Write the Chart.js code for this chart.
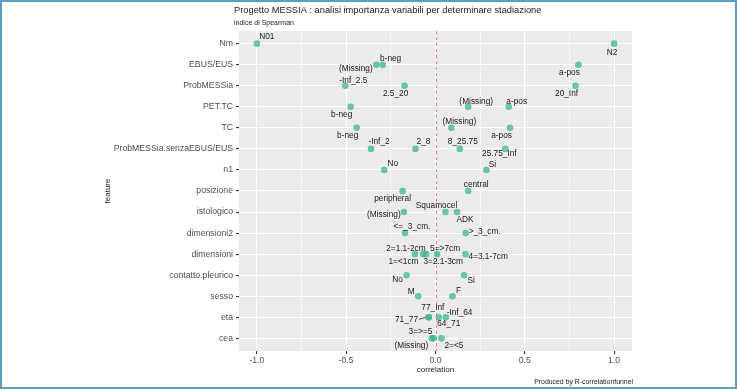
<!DOCTYPE html>
<html>
<head>
<meta charset="utf-8">
<script src="https://cdn.jsdelivr.net/npm/chart.js@4.4.1/dist/chart.umd.min.js"></script>
<style>
  html, body { margin: 0; padding: 0; background: #fff; }
  #wrap { width: 737px; height: 390px; position: relative; }
</style>
</head>
<body>
<div id="wrap"><canvas id="funnel" width="737" height="390"></canvas></div>
<script>
// features, top to bottom
const features = ['Nm', 'EBUS/EUS', 'ProbMESSia', 'PET.TC', 'TC', 'ProbMESSia.senzaEBUS/EUS', 'n1',
  'posizione', 'istologico', 'dimensioni2', 'dimensioni', 'contatto.pleurico', 'sesso', 'eta', 'cea'];

// one entry per feature level
const levelFeature = ['Nm', 'Nm',
  'EBUS/EUS', 'EBUS/EUS', 'EBUS/EUS',
  'ProbMESSia', 'ProbMESSia', 'ProbMESSia',
  'PET.TC', 'PET.TC', 'PET.TC',
  'TC', 'TC', 'TC',
  'ProbMESSia.senzaEBUS/EUS', 'ProbMESSia.senzaEBUS/EUS', 'ProbMESSia.senzaEBUS/EUS', 'ProbMESSia.senzaEBUS/EUS',
  'n1', 'n1',
  'posizione', 'posizione',
  'istologico', 'istologico', 'istologico',
  'dimensioni2', 'dimensioni2',
  'dimensioni', 'dimensioni', 'dimensioni', 'dimensioni', 'dimensioni',
  'contatto.pleurico', 'contatto.pleurico',
  'sesso', 'sesso',
  'eta', 'eta', 'eta', 'eta',
  'cea', 'cea', 'cea'];
const levelName = ['N01', 'N2',
  '(Missing)', 'b-neg', 'a-pos',
  '-Inf_2.5', '2.5_20', '20_Inf',
  'b-neg', '(Missing)', 'a-pos',
  'b-neg', '(Missing)', 'a-pos',
  '-Inf_2', '2_8', '8_25.75', '25.75_Inf',
  'No', 'Si',
  'peripheral', 'central',
  '(Missing)', 'Squamocel', 'ADK',
  '<=_3_cm.', '>_3_cm.',
  '2=1.1-2cm', '1=<1cm', '3=2.1-3cm', '5=>7cm', '4=3.1-7cm',
  'No', 'Si',
  'M', 'F',
  '71_77', '77_Inf', '64_71', '-Inf_64',
  '3=>=5', '(Missing)', '2=<5'];
const levelCorr = [-1.0, 1.0,
  -0.331, -0.296, 0.80,
  -0.505, -0.173, 0.784,
  -0.475, 0.183, 0.41,
  -0.441, 0.089, 0.417,
  -0.361, -0.112, 0.136, 0.391,
  -0.287, 0.285,
  -0.184, 0.183,
  -0.177, 0.056, 0.121,
  -0.171, 0.169,
  -0.115, -0.069, -0.052, 0.009, 0.168,
  -0.162, 0.160,
  -0.097, 0.095,
  -0.039, -0.037, 0.018, 0.058,
  -0.021, -0.010, 0.033];

const xTicks = [-1, -0.75, -0.5, -0.25, 0, 0.25, 0.5, 0.75, 1];

// label placement around each point (px from point: dx, dy, leader line)
const labelOffsets = [[10, -6.5], [-2, 8.7],
  [-20.5, 4.5], [8, -5.5], [-9, 8],
  [8, -5.5], [-9, 7.5], [-9, 8],
  [-9, 8], [8, -5], [8, -5],
  [-9, 7.5], [8, -6], [-8.4, 7.5],
  [8, -6.7], [8, -6.7], [3, -7], [-6, 5],
  [8.5, -6], [6, -5],
  [-10, 7.5], [8, -6.7],
  [-20, 3], [-9, -6], [8, 8],
  [7, -6.5], [19, -1],
  [-9, -5.7], [-19.7, 7.6], [17, 7.6], [8, -5.7], [22.7, 3],
  [-9, 5], [7, 6],
  [-7, -5], [6, -6],
  [-22, 2, true], [4, -9.3], [10, 6.3], [13.7, -4.7],
  [-11.3, -6.3], [-22.3, 7.7], [12.5, 7.7]];

const points = levelCorr.map((c, i) => ({ x: c, y: features.indexOf(levelFeature[i]) }));

const FONT = 'Liberation Sans, Arial, sans-serif';

const decorations = {
  id: 'decorations',
  beforeDraw(chart) {
    const { ctx, chartArea: a } = chart;
    ctx.save();
    ctx.fillStyle = '#EBEBEB';
    ctx.fillRect(a.left, a.top, a.right - a.left, a.bottom - a.top);
    ctx.restore();
  },
  beforeDatasetsDraw(chart) {
    const { ctx, chartArea: a, scales } = chart;
    const x0 = Math.round(scales.x.getPixelForValue(0)) + 0.5;
    ctx.save();
    ctx.strokeStyle = '#EE7A7A';
    ctx.lineWidth = 1;
    ctx.setLineDash([3, 3]);
    ctx.beginPath();
    ctx.moveTo(x0, a.top);
    ctx.lineTo(x0, a.bottom);
    ctx.stroke();
    ctx.restore();
  },
  afterDatasetsDraw(chart) {
    const { ctx } = chart;
    const meta = chart.getDatasetMeta(0);
    ctx.save();
    ctx.font = '8.3px ' + FONT;
    ctx.fillStyle = '#1a1a1a';
    ctx.textAlign = 'center';
    ctx.textBaseline = 'middle';
    meta.data.forEach((pt, i) => {
      const off = labelOffsets[i];
      const lx = pt.x + off[0];
      const ly = pt.y + off[1];
      ctx.fillText(levelName[i], lx, ly);
      if (off[2]) {
        const w = ctx.measureText(levelName[i]).width;
        ctx.strokeStyle = '#333';
        ctx.lineWidth = 0.8;
        ctx.beginPath();
        ctx.moveTo(lx + w / 2 + 1, ly);
        ctx.lineTo(pt.x - 3, pt.y);
        ctx.stroke();
      }
    });
    ctx.restore();
  },
  afterDraw(chart) {
    const { ctx, chartArea: a } = chart;
    ctx.save();
    ctx.fillStyle = '#1a1a1a';
    ctx.textBaseline = 'middle';
    ctx.textAlign = 'left';
    ctx.font = '9.3px ' + FONT;
    ctx.fillText('Progetto MESSIA : analisi importanza variabili per determinare stadiazione', 234, 10);
    ctx.font = '7px ' + FONT;
    ctx.fillText('indice di Spearman', 234, 23.5);

    ctx.textAlign = 'center';
    ctx.font = '8px ' + FONT;
    ctx.fillText('correlation', (a.left + a.right) / 2, 370);
    ctx.save();
    ctx.translate(108, (a.top + a.bottom) / 2);
    ctx.rotate(-Math.PI / 2);
    ctx.fillText('feature', 0, 0);
    ctx.restore();

    ctx.textAlign = 'right';
    ctx.font = '6.9px ' + FONT;
    ctx.fillText('Produced by R-correlationfunnel', a.right + 1, 382);

    ctx.strokeStyle = '#5B9FBF';
    ctx.lineWidth = 2;
    ctx.strokeRect(1, 1, 735, 387);
    ctx.restore();
  }
};

new Chart(document.getElementById('funnel'), {
  type: 'scatter',
  data: {
    datasets: [{
      data: points,
      backgroundColor: 'rgba(60,182,137,0.75)',
      borderWidth: 0,
      pointRadius: 3.3,
      pointHoverRadius: 3.3
    }]
  },
  options: {
    responsive: false,
    animation: false,
    events: [],
    layout: { padding: { left: 0, right: 105, top: 31, bottom: 0 } },
    plugins: {
      legend: { display: false },
      tooltip: { enabled: false }
    },
    scales: {
      x: {
        type: 'linear',
        min: -1.1,
        max: 1.1,
        afterBuildTicks: s => { s.ticks = xTicks.map(v => ({ value: v })); },
        afterFit: s => { s.height = 39; },
        grid: {
          color: '#ffffff',
          lineWidth: c => (Math.abs(c.tick.value * 2 - Math.round(c.tick.value * 2)) < 1e-6 ? 1.1 : 0.6),
          tickColor: c => (Math.abs(c.tick.value * 2 - Math.round(c.tick.value * 2)) < 1e-6 ? '#333' : 'rgba(0,0,0,0)'),
          tickLength: 3
        },
        border: { display: false },
        ticks: {
          autoSkip: false,
          maxRotation: 0,
          padding: 1,
          color: '#4d4d4d',
          font: { family: FONT, size: 8.7 },
          callback: v => (Math.abs(v * 2 - Math.round(v * 2)) < 1e-6 ? v.toFixed(1) : '')
        }
      },
      y: {
        type: 'linear',
        min: -0.6,
        max: features.length - 0.4,
        reverse: true,
        afterBuildTicks: s => { s.ticks = features.map((f, i) => ({ value: i })); },
        afterFit: s => { s.width = 239; },
        grid: {
          color: '#ffffff',
          lineWidth: 1.1,
          tickColor: '#333',
          tickLength: 3
        },
        border: { display: false },
        ticks: {
          autoSkip: false,
          padding: 3,
          color: '#4d4d4d',
          font: { family: FONT, size: 8.7 },
          callback: v => features[v]
        }
      }
    }
  },
  plugins: [decorations]
});
</script>
</body>
</html>
